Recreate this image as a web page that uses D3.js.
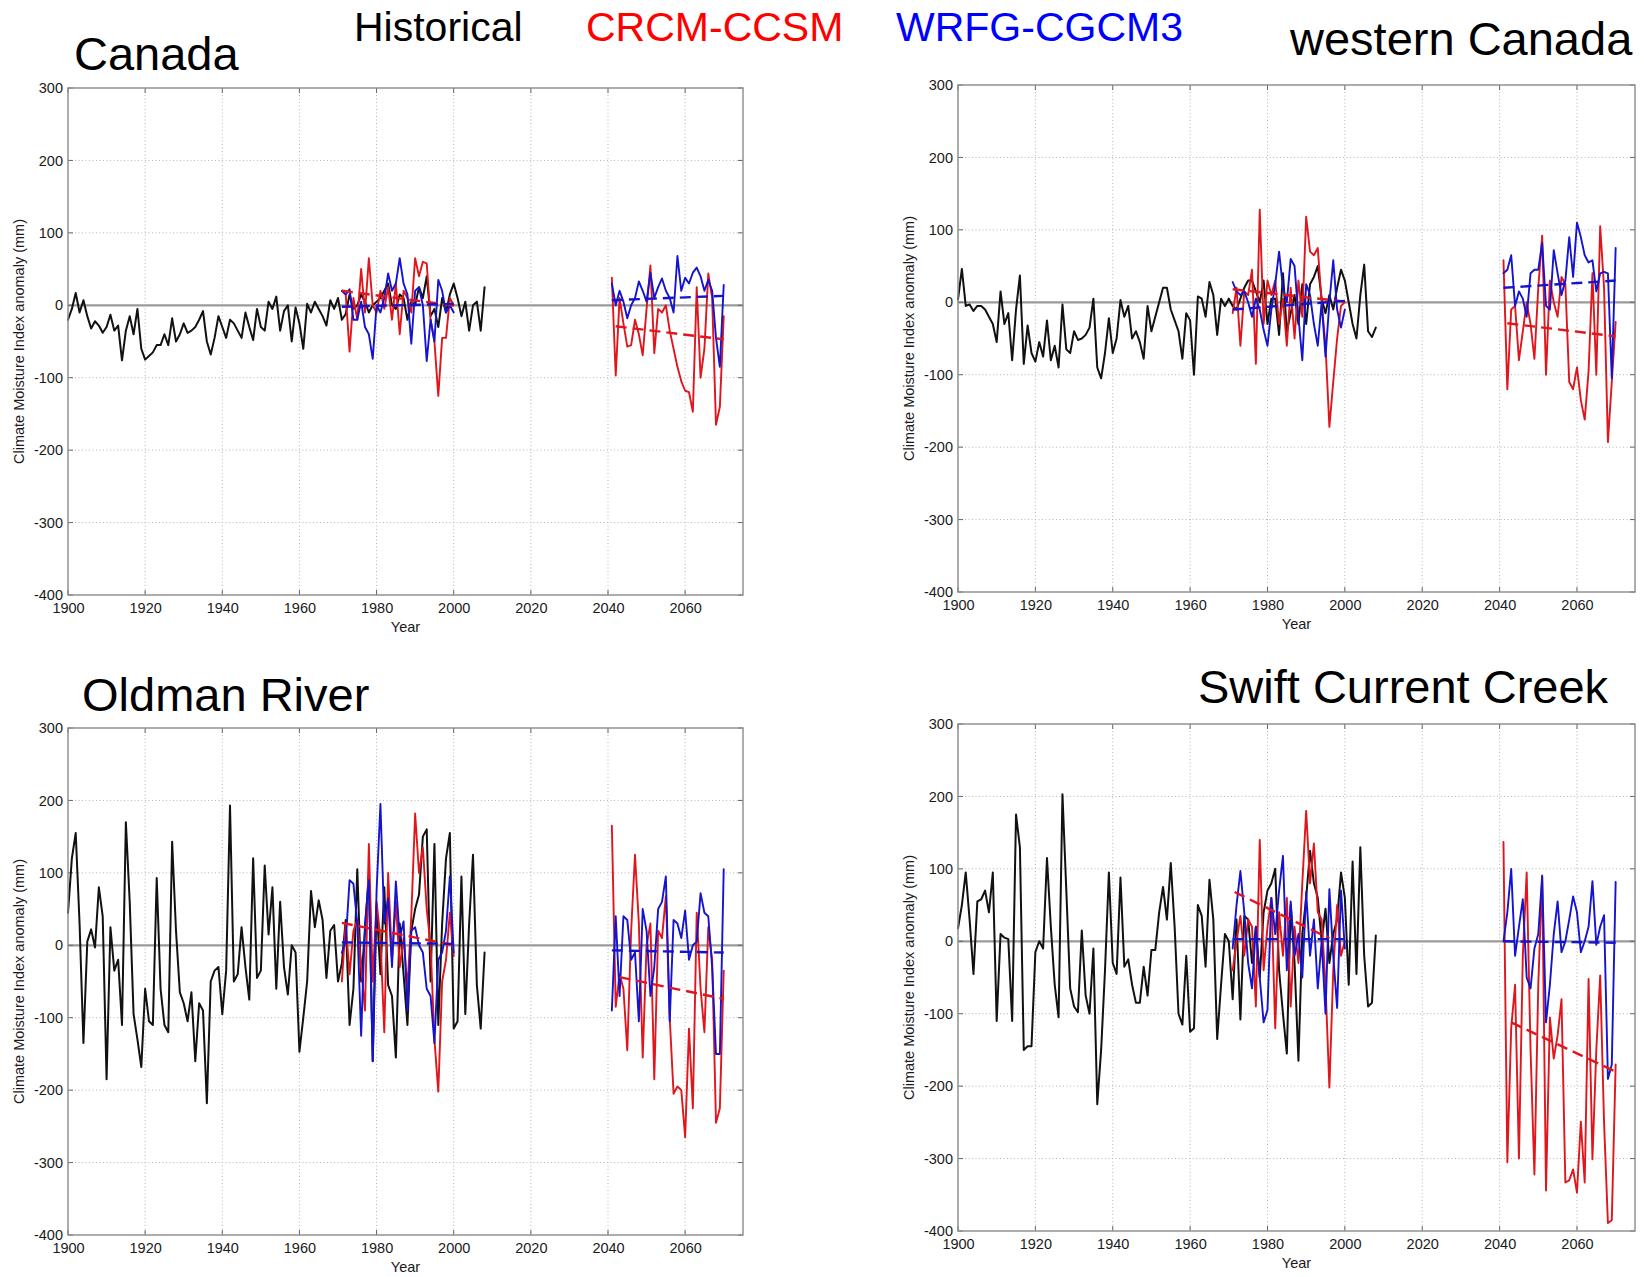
<!DOCTYPE html>
<html>
<head>
<meta charset="utf-8">
<script src="https://cdn.jsdelivr.net/npm/d3@7"></script>
<style>
  html, body { margin: 0; padding: 0; background: #fff; }
  svg { display: block; }
  text { font-family: "Liberation Sans", Arial, sans-serif; }
</style>
</head>
<body>
<svg id="chart" width="1644" height="1277"></svg>
<script>
// ---------------- data ----------------
const xTicks = [1900, 1920, 1940, 1960, 1980, 2000, 2020, 2040, 2060];
const yTicks = [-400, -300, -200, -100, 0, 100, 200, 300];
const xDomain = [1900, 2075];
const yDomain = [-400, 300];

const histYears = d3.range(1900, 2009);
const pastYears = d3.range(1971, 2001);
const futureYears = d3.range(2041, 2071);

const legendLabels = ["Historical", "CRCM-CCSM", "WRFG-CGCM3"];
const panelTitles = ["Canada", "western Canada", "Oldman River", "Swift Current Creek"];

// Canada
const canadaHist = [
  -20, -5, 17, -10, 7, -15, -32, -22, -28, -38,
  -30, -13, -35, -28, -76, -35, -15, -40, -5, -60,
  -75, -70, -65, -55, -55, -40, -55, -18, -50, -40,
  -25, -38, -35, -30, -20, -8, -50, -68, -45, -15,
  -30, -45, -20, -25, -35, -45, -10, -30, -48, -5,
  -30, -35, 5, -5, 12, -35, -8, 0, -50, -3,
  -25, -60, 2, -10, 5, -5, -15, -28, 7, -5,
  10, -20, -12, 15, -5, 0, 15, 5, -10, 0,
  5, 10, 20, 30, 0, -5, 15, 10, -20, 5,
  0, 25, 10, 40, -15, -5, -30, 10, -10, 15,
  30, 10, -15, 5, -35, 0, 5, -35, 25
];
const canadaCrcmPast = [
  20, 15, -64, 10, -20, 50, -10, 65, 0, -10,
  20, -5, 25, -20, 30, -40, 20, 10, -10, 65,
  40, 60, 58, -20, -50, -125, -45, -45, 10, 0
];
const canadaWrfgPast = [
  20, 15, 22, -20, -20, 5, -30, -40, -74, 0,
  -10, 10, 44, 20, 30, 65, 30, 15, -53, 20,
  25, 0, -77, -20, -50, 35, 20, -10, 0, -10
];
const canadaCrcmFuture = [
  38, -97, 10, -25, -57, -55, -20, -40, -69, -5,
  55, -66, -5, -10, 0, -35, -60, -85, -105, -118,
  -120, -147, 25, -100, -60, 44, 10, -165, -140, -15
];
const canadaWrfgFuture = [
  30, 0, 20, 5, -18, 0, 10, 33, 20, 5,
  45, 10, 25, 37, 20, 10, -10, 68, 20, 38,
  30, 45, 52, 40, 20, 35, 20, -45, -85, 28
];
const canadaTrends = {
  crcmPast: [[1971, 20], [2001, -1]],
  wrfgPast: [[1971, -2], [2000, 2]],
  crcmFuture: [[2042, -29], [2070, -47]],
  wrfgFuture: [[2041, 7], [2070, 13]]
};

// western Canada
const westHist = [
  4, 46, -5, -3, -12, -5, -5, -10, -20, -30,
  -55, 15, -30, -15, -80, -10, 37, -85, -32, -70,
  -82, -55, -75, -25, -80, -60, -90, -3, -65, -70,
  -40, -52, -50, -45, -35, 5, -90, -105, -70, -22,
  -70, -50, 3, -20, -5, -50, -40, -55, -78, -5,
  -40, -20, 0, 20, 20, -10, -25, -40, -78, -15,
  -25, -100, 8, 5, -20, 28, 10, -45, 5, -5,
  5, -5, -10, 5, 20, 30, 30, 15, 0, 30,
  -30, 5, 5, -45, 40, -40, -15, 10, -30, 25,
  -30, 25, 35, 50, 5, -15, 10, -10, 20, 45,
  30, 0, -30, -50, 10, 52, -40, -48, -35
];
const westCrcmPast = [
  -15, 20, -60, 15, 10, 45, -85, 128, -30, 30,
  10, 30, -30, 5, -60, 20, -50, 30, -20, 118,
  70, 65, 75, 0, -60, -172, -110, -50, -5, 0
];
const westWrfgPast = [
  28, 15, 10, 15, 0, -20, 5, -10, -38, -60,
  -10, 25, 70, 20, 0, 60, 50, -20, -80, 25,
  10, -30, -60, 0, -75, 0, 58, -10, -35, -10
];
const westCrcmFuture = [
  58, -120, -10, -5, -80, -40, 0, -30, -78, 20,
  92, -100, 30, 0, -20, 35, 25, -110, -120, -90,
  -135, -162, -95, 40, -100, 105, 20, -193, -110, -27
];
const westWrfgFuture = [
  40, 45, 65, -5, 15, 5, -20, 40, 45, 45,
  82, -5, -10, 72, 40, 10, 30, 90, 35, 110,
  90, 65, 55, 58, 15, 40, 42, 40, -105, 75
];
const westTrends = {
  crcmPast: [[1971, 18], [2000, 1]],
  wrfgPast: [[1971, -10], [2000, 2]],
  crcmFuture: [[2042, -29], [2070, -47]],
  wrfgFuture: [[2041, 20], [2070, 30]]
};

// Oldman River
const oldmanHist = [
  45, 120, 155, 30, -135, 5, 22, -3, 80, 40,
  -185, 25, -35, -20, -110, 170, 60, -95, -130, -168,
  -60, -105, -110, 93, -60, -110, -120, 143, 20, -65,
  -80, -105, -65, -160, -80, -90, -218, -50, -35, -30,
  -95, -35, 193, -50, -40, 25, -30, -75, 120, -45,
  -35, 110, 15, 80, -60, 60, -30, -68, 0, -10,
  -147, -100, -50, 75, 25, 62, 35, -45, 20, 28,
  -50, -25, 35, -110, -60, 105, -50, 20, 100, -160,
  55, -40, 80, -55, -70, -155, 30, -40, -110, 20,
  50, 70, 150, 160, -50, 140, -110, 30, 120, 155,
  -115, -105, 95, -95, 30, 125, -55, -115, -10
];
const oldmanCrcmPast = [
  -50, 30, -40, 20, 35, -30, -90, 140, -50, 60,
  10, -120, 100, -20, 60, -30, 10, -60, 40, 182,
  100, 135, 50, 0, -130, -202, -50, -20, 45, -15
];
const oldmanWrfgPast = [
  -10, 5, 90, 85, 30, -125, 30, 90, -160, 75,
  195, 30, 65, -30, 88, 10, 33, -90, 20, 25,
  0, -10, -60, -70, -135, -20, -10, 20, 95, -10
];
const oldmanCrcmFuture = [
  165, -85, -40, -60, -145, 20, 125, 30, -155, 0,
  30, -185, 20, 10, 68, -100, -205, -195, -200, -265,
  -115, -225, 45, -60, -120, 25, -20, -245, -225, -35
];
const oldmanWrfgFuture = [
  -90, 40, -70, 40, 35, -20, -10, -105, 50, 20,
  -70, -30, 50, 60, 95, -105, 35, 30, 10, 48,
  -20, 0, 5, 72, 45, 40, -30, -150, -150, 105
];
const oldmanTrends = {
  crcmPast: [[1971, 31], [2001, -1]],
  wrfgPast: [[1971, 4], [2000, 2]],
  crcmFuture: [[2043, -44], [2070, -74]],
  wrfgFuture: [[2041, -7], [2070, -10]]
};

// Swift Current Creek
const swiftHist = [
  18, 50, 95, 30, -45, 55, 58, 70, 40, 95,
  -110, 10, 5, 3, -110, 175, 130, -150, -145, -145,
  -15, 0, -10, 115, 20, -60, -105, 203, 70, -65,
  -90, -98, 15, -75, -100, -10, -225, -150, -40, 95,
  -30, -45, 88, -35, -25, -60, -85, -85, -35, -75,
  -12, -12, 40, 75, 30, 108, 20, -100, -115, -20,
  -125, -120, 50, 35, -35, 85, 30, -135, -60, 10,
  0, -80, 30, -108, 35, 30, -30, 20, -50, 40,
  70, 80, 100, -40, -100, -155, 50, -30, -165, 10,
  60, 125, 80, 60, 0, 45, -30, 10, 30, 95,
  60, -60, 110, -45, 130, -20, -90, -85, 8
];
const swiftCrcmPast = [
  -40, 0, 35, -20, 30, 20, -90, 140, -40, 20,
  60, -120, 40, -20, 60, -90, 20, -30, 80, 180,
  80, 135, 40, 30, -60, -202, -40, 50, -20, 0
];
const swiftWrfgPast = [
  -10, 50, 97, 40, -30, -65, 20, -50, -112, -95,
  60, 10, 70, 118, -40, 55, -20, 10, -50, 68,
  -20, 30, -65, 0, -100, 72, -20, -92, 70, -10
];
const swiftCrcmFuture = [
  137, -305, -120, -60, -300, -20, 95, -150, -322, -60,
  91, -344, -105, -162, -130, -80, -333, -330, -315, -347,
  -249, -333, -52, -301, -150, -47, -250, -389, -385, -170
];
const swiftWrfgFuture = [
  0, 40, 100, -20, 20, 58, -50, -65, -10, 10,
  90, -112, -60, 10, 55, -15, 0, 30, 62, 40,
  -15, 0, 20, 83, -5, 20, 36, -190, -170, 82
];
const swiftTrends = {
  crcmPast: [[1971.5, 68], [1996, 4]],
  wrfgPast: [[1971, 3], [2000, 3]],
  crcmFuture: [[2043, -112], [2070, -180]],
  wrfgFuture: [[2041, 0], [2070, -2]]
};

const panelData = [
  { hist: canadaHist, crcmPast: canadaCrcmPast, wrfgPast: canadaWrfgPast,
    crcmFuture: canadaCrcmFuture, wrfgFuture: canadaWrfgFuture, trends: canadaTrends },
  { hist: westHist, crcmPast: westCrcmPast, wrfgPast: westWrfgPast,
    crcmFuture: westCrcmFuture, wrfgFuture: westWrfgFuture, trends: westTrends },
  { hist: oldmanHist, crcmPast: oldmanCrcmPast, wrfgPast: oldmanWrfgPast,
    crcmFuture: oldmanCrcmFuture, wrfgFuture: oldmanWrfgFuture, trends: oldmanTrends },
  { hist: swiftHist, crcmPast: swiftCrcmPast, wrfgPast: swiftWrfgPast,
    crcmFuture: swiftCrcmFuture, wrfgFuture: swiftWrfgFuture, trends: swiftTrends }
];

// ---------------- layout & style ----------------
const panelBoxes = [
  { left: 68,  right: 743,  top: 88,  bottom: 595 },
  { left: 958, right: 1635, top: 85,  bottom: 592 },
  { left: 68,  right: 743,  top: 728, bottom: 1235 },
  { left: 958, right: 1635, top: 724, bottom: 1231 }
];
const titlePos = [
  { x: 74, y: 70 },
  { x: 1290, y: 55 },
  { x: 82, y: 711 },
  { x: 1198, y: 703 }
];
const legendPos = [
  { x: 354, y: 41, color: "#000000" },
  { x: 586, y: 41, color: "#ff0000" },
  { x: 896, y: 41, color: "#0000ff" }
];
const COLORS = { hist: "#111111", crcm: "#e0161c", wrfg: "#1414d0" };
const plainNumber = v => String(v);   // hyphen-minus, as in the printed axes

const svg = d3.select("#chart");
svg.append("rect").attr("width", 1644).attr("height", 1277).attr("fill", "#fff");

// legend row across the top
svg.append("g").selectAll("text").data(legendLabels).join("text")
  .attr("x", (d, i) => legendPos[i].x)
  .attr("y", (d, i) => legendPos[i].y)
  .attr("font-size", 41)
  .attr("fill", (d, i) => legendPos[i].color)
  .text(d => d);

// panel titles
svg.append("g").selectAll("text").data(panelTitles).join("text")
  .attr("x", (d, i) => titlePos[i].x)
  .attr("y", (d, i) => titlePos[i].y)
  .attr("font-size", 47)
  .attr("fill", "#000")
  .text(d => d);

const pairs = (years, vals) => vals.map((v, i) => [years[i], v]);

function drawPanel(box, d) {
  const g = svg.append("g");
  const x = d3.scaleLinear().domain(xDomain).range([box.left, box.right]);
  const y = d3.scaleLinear().domain(yDomain).range([box.bottom, box.top]);

  // plot background
  g.append("rect")
    .attr("x", box.left).attr("y", box.top)
    .attr("width", box.right - box.left).attr("height", box.bottom - box.top)
    .attr("fill", "#fff");

  // dotted grid
  const grid = g.append("g").attr("stroke", "#b4b4b4").attr("stroke-width", 1)
    .attr("stroke-dasharray", "1,2.5");
  grid.selectAll("line.gx").data(xTicks.filter(t => t > xDomain[0])).join("line")
    .attr("x1", t => x(t)).attr("x2", t => x(t))
    .attr("y1", box.top).attr("y2", box.bottom);
  grid.selectAll("line.gy").data(yTicks.filter(t => t > yDomain[0] && t < yDomain[1] && t !== 0)).join("line")
    .attr("x1", box.left).attr("x2", box.right)
    .attr("y1", t => y(t)).attr("y2", t => y(t));

  // zero reference line
  g.append("line")
    .attr("x1", box.left).attr("x2", box.right)
    .attr("y1", y(0)).attr("y2", y(0))
    .attr("stroke", "#9a9a9a").attr("stroke-width", 2.3);

  // inward tick marks on all four sides
  const tk = g.append("g").attr("stroke", "#666").attr("stroke-width", 1);
  xTicks.forEach(t => {
    tk.append("line").attr("x1", x(t)).attr("x2", x(t)).attr("y1", box.bottom).attr("y2", box.bottom - 5);
    tk.append("line").attr("x1", x(t)).attr("x2", x(t)).attr("y1", box.top).attr("y2", box.top + 5);
  });
  yTicks.forEach(t => {
    tk.append("line").attr("x1", box.left).attr("x2", box.left + 5).attr("y1", y(t)).attr("y2", y(t));
    tk.append("line").attr("x1", box.right).attr("x2", box.right - 5).attr("y1", y(t)).attr("y2", y(t));
  });

  // axes (labels only; the frame is drawn separately)
  const ax = g.append("g").attr("transform", `translate(0,${box.bottom})`)
    .call(d3.axisBottom(x).tickValues(xTicks).tickSize(0).tickPadding(8).tickFormat(plainNumber));
  ax.select(".domain").remove();
  ax.selectAll("text").attr("font-size", 14.5).attr("fill", "#1a1a1a")
    .attr("font-family", '"Liberation Sans", Arial, sans-serif');

  const ay = g.append("g").attr("transform", `translate(${box.left},0)`)
    .call(d3.axisLeft(y).tickValues(yTicks).tickSize(0).tickPadding(5).tickFormat(plainNumber));
  ay.select(".domain").remove();
  ay.selectAll("text").attr("font-size", 14.5).attr("fill", "#1a1a1a")
    .attr("font-family", '"Liberation Sans", Arial, sans-serif');

  // axis titles
  g.append("text")
    .attr("x", (box.left + box.right) / 2).attr("y", box.bottom + 37)
    .attr("text-anchor", "middle").attr("font-size", 14.5).attr("fill", "#1a1a1a")
    .text("Year");
  g.append("text")
    .attr("transform", `translate(${box.left - 44},${(box.top + box.bottom) / 2}) rotate(-90)`)
    .attr("text-anchor", "middle").attr("font-size", 14.5).attr("fill", "#1a1a1a")
    .text("Climate Moisture Index anomaly (mm)");

  // series
  const line = d3.line().x(p => x(p[0])).y(p => y(p[1]));
  const lines = g.append("g").attr("fill", "none")
    .attr("stroke-linejoin", "round").attr("stroke-linecap", "round");

  lines.append("path").attr("d", line(pairs(histYears, d.hist)))
    .attr("stroke", COLORS.hist).attr("stroke-width", 2);
  lines.append("path").attr("d", line(pairs(pastYears, d.crcmPast)))
    .attr("stroke", COLORS.crcm).attr("stroke-width", 1.9);
  lines.append("path").attr("d", line(pairs(futureYears, d.crcmFuture)))
    .attr("stroke", COLORS.crcm).attr("stroke-width", 1.9);
  lines.append("path").attr("d", line(pairs(pastYears, d.wrfgPast)))
    .attr("stroke", COLORS.wrfg).attr("stroke-width", 1.9);
  lines.append("path").attr("d", line(pairs(futureYears, d.wrfgFuture)))
    .attr("stroke", COLORS.wrfg).attr("stroke-width", 1.9);

  // linear trend lines (dashed)
  const trendStyle = [
    ["crcmPast", COLORS.crcm], ["crcmFuture", COLORS.crcm],
    ["wrfgPast", COLORS.wrfg], ["wrfgFuture", COLORS.wrfg]
  ];
  trendStyle.forEach(([key, col]) => {
    lines.append("path").attr("d", line(d.trends[key]))
      .attr("stroke", col).attr("stroke-width", 2.4)
      .attr("stroke-dasharray", "11,6").attr("stroke-linecap", "butt");
  });

  // frame
  g.append("rect")
    .attr("x", box.left).attr("y", box.top)
    .attr("width", box.right - box.left).attr("height", box.bottom - box.top)
    .attr("fill", "none").attr("stroke", "#8a8a8a").attr("stroke-width", 1.4);
}

panelBoxes.forEach((box, i) => drawPanel(box, panelData[i]));
</script>
</body>
</html>
